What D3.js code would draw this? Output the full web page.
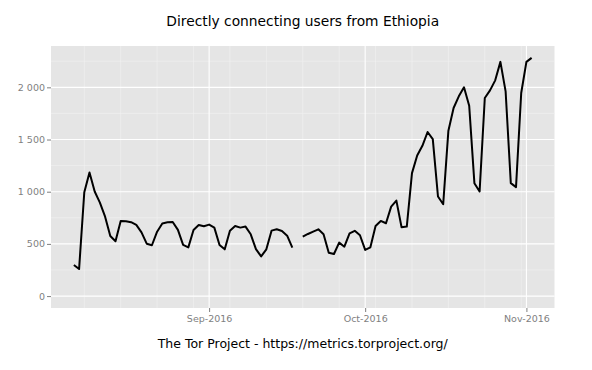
<!DOCTYPE html>
<html>
<head>
<meta charset="utf-8">
<script src="https://cdn.jsdelivr.net/npm/d3@7"></script>
<style>
  html, body { margin: 0; padding: 0; background: #fff; }
  svg { display: block; font-family: "DejaVu Sans", sans-serif; }
</style>
</head>
<body>
<svg id="chart" width="592" height="370"></svg>
<script>
const titleText = "Directly connecting users from Ethiopia";
const captionText = "The Tor Project - https://metrics.torproject.org/";
const firstDate = "2016-08-06";
// daily users, Aug 6 .. Nov 2 2016 (null = missing)
const users = [
  298, 259, 995, 1184, 1002, 896, 761, 576, 525, 720, 717, 708, 682, 611, 502, 487,
  617, 696, 707, 710, 634, 490, 467, 634, 682, 669,
  685, 656, 490, 448, 627, 672, 656, 666, 592, 450, 380, 448, 627, 640, 624, 579, 464,
  null, 569, 595, 617, 640, 592, 416, 403, 512, 473, 600, 625, 583,
  442, 467, 672, 720, 698, 857, 915, 660, 666, 1178, 1347, 1440, 1572, 1504, 954, 880,
  1585, 1802, 1914, 2000, 1824, 1082, 1002, 1898, 1971, 2067, 2244, 1962, 1082, 1044, 1946,
  2244, 2282
];
const yTicks = [0, 500, 1000, 1500, 2000];
const yMinor = [250, 750, 1250, 1750, 2250];
const xTickDates = ["2016-09-01", "2016-10-01", "2016-11-01"];

const start = new Date(firstDate + "T00:00:00Z");
const dates = users.map((_, i) => d3.utcDay.offset(start, i));
const data = dates.map((d, i) => ({ date: d, value: users[i] }));

const svg = d3.select("#chart");
const panel = { left: 51, right: 554.5, top: 46, bottom: 308 };

const xMin = d3.min(dates), xMax = d3.max(dates);
const xPad = (xMax - xMin) * 0.05;
const x = d3.scaleUtc()
  .domain([new Date(+xMin - xPad), new Date(+xMax + xPad)])
  .range([panel.left, panel.right]);

const yMax = d3.max(users);
const yPad = yMax * 0.05;
const y = d3.scaleLinear()
  .domain([-yPad, yMax + yPad])
  .range([panel.bottom, panel.top]);

// panel background
svg.append("rect")
  .attr("x", panel.left).attr("y", panel.top)
  .attr("width", panel.right - panel.left).attr("height", panel.bottom - panel.top)
  .attr("fill", "#e5e5e5");

const grid = svg.append("g");
const xMinor = d3.utcMonday.range(x.domain()[0], x.domain()[1]);
const xMajor = xTickDates.map(s => new Date(s + "T00:00:00Z"));

grid.selectAll(".ymin").data(yMinor.filter(v => y(v) >= panel.top)).join("line")
  .attr("x1", panel.left).attr("x2", panel.right)
  .attr("y1", d => y(d)).attr("y2", d => y(d))
  .attr("stroke", "#f2f2f2").attr("stroke-width", 0.6);
grid.selectAll(".xmin").data(xMinor).join("line")
  .attr("y1", panel.top).attr("y2", panel.bottom)
  .attr("x1", d => x(d)).attr("x2", d => x(d))
  .attr("stroke", "#f2f2f2").attr("stroke-width", 0.6);
grid.selectAll(".ymaj").data(yTicks).join("line")
  .attr("x1", panel.left).attr("x2", panel.right)
  .attr("y1", d => y(d)).attr("y2", d => y(d))
  .attr("stroke", "#ffffff").attr("stroke-width", 1.1);
grid.selectAll(".xmaj").data(xMajor).join("line")
  .attr("y1", panel.top).attr("y2", panel.bottom)
  .attr("x1", d => x(d)).attr("x2", d => x(d))
  .attr("stroke", "#ffffff").attr("stroke-width", 1.1);

// data line
const line = d3.line()
  .defined(d => d.value !== null)
  .x(d => x(d.date))
  .y(d => y(d.value));
svg.append("path")
  .datum(data)
  .attr("d", line)
  .attr("fill", "none")
  .attr("stroke", "#000")
  .attr("stroke-width", 2)
  .attr("stroke-linejoin", "round");

// axes
const fmt = d3.formatLocale({ decimal: ".", thousands: " ", grouping: [3], currency: ["", ""] }).format(",d");
const yAxis = d3.axisLeft(y).tickValues(yTicks).tickFormat(fmt).tickSize(4).tickPadding(2);
const gy = svg.append("g").attr("transform", `translate(${panel.left},0)`).call(yAxis);
gy.select(".domain").remove();
gy.selectAll("line").attr("stroke", "#7f7f7f");
gy.selectAll("text").attr("fill", "#7f7f7f").style("font-size", "9.5px").style("font-family", "DejaVu Sans");

const monthFmt = d3.utcFormat("%b-%Y");
const xAxis = d3.axisBottom(x).tickValues(xMajor).tickFormat(monthFmt).tickSize(4).tickPadding(3);
const gx = svg.append("g").attr("transform", `translate(0,${panel.bottom})`).call(xAxis);
gx.select(".domain").remove();
gx.selectAll("line").attr("stroke", "#7f7f7f");
gx.selectAll("text").attr("fill", "#7f7f7f").style("font-size", "9.5px").style("font-family", "DejaVu Sans");

// title & caption
svg.append("text")
  .attr("x", (panel.left + panel.right) / 2).attr("y", 26)
  .attr("text-anchor", "middle")
  .style("font-size", "13.8px").attr("fill", "#000")
  .text(titleText);
svg.append("text")
  .attr("x", (panel.left + panel.right) / 2).attr("y", 347.5)
  .attr("text-anchor", "middle")
  .style("font-size", "12.5px").attr("fill", "#000")
  .text(captionText);
</script>
</body>
</html>
